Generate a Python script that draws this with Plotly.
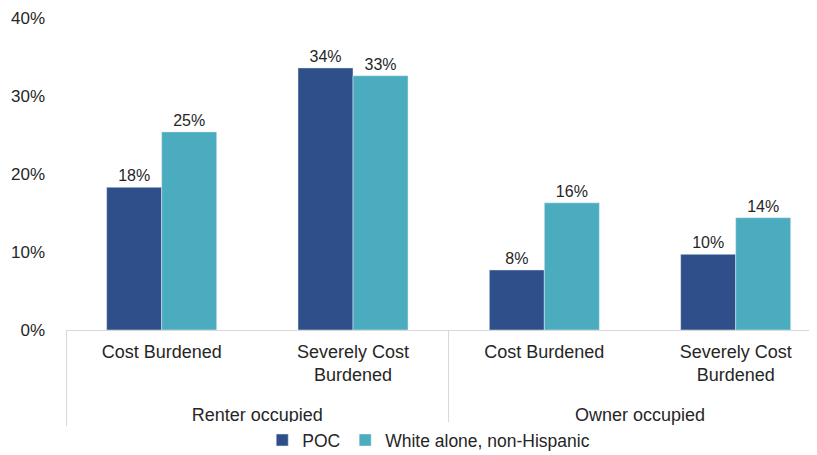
import plotly.graph_objects as go

groups = ["Renter occupied", "Renter occupied", "Owner occupied", "Owner occupied"]
categories = ["Cost Burdened", "Severely Cost<br>Burdened<br>&nbsp;", "Cost Burdened", "Severely Cost<br>Burdened<br>&nbsp;"]
poc = [18.3, 33.6, 7.7, 9.7]
white = [25.4, 32.6, 16.3, 14.4]
poc_labels = ["18%", "34%", "8%", "10%"]
white_labels = ["25%", "33%", "16%", "14%"]
y_ticks = [0, 10, 20, 30, 40]
y_ticklabels = ["0%", "10%", "20%", "30%", "40%"]

font = "Liberation Sans, Arial, sans-serif"
fig = go.Figure()
fig.add_trace(go.Bar(x=[groups, categories], y=poc, name="POC", marker_color="#2E4F8A",
                     text=poc_labels, textposition="outside", cliponaxis=False,
                     textfont=dict(size=16, color="#262626")))
fig.add_trace(go.Bar(x=[groups, categories], y=white, name="White alone, non-Hispanic",
                     marker_color="#4BACC0", text=white_labels, textposition="outside",
                     cliponaxis=False, textfont=dict(size=16, color="#262626")))
fig.update_layout(
    width=809, height=447, barmode="group", bargap=0.425, bargroupgap=0,
    plot_bgcolor="white", paper_bgcolor="white",
    margin=dict(l=58, r=0, t=10, b=125, autoexpand=False),
    font=dict(family=font, size=17, color="#262626"),
    legend=dict(orientation="h", x=0.483, xanchor="center", y=-0.353, yanchor="middle",
                font=dict(size=17.5), itemwidth=30, traceorder="normal"),
)
fig.update_xaxes(type="multicategory", range=[-0.5, 3.425], showline=True,
                 linecolor="#D9D9D9", linewidth=1,
                 showdividers=True, dividercolor="#D9D9D9", dividerwidth=1,
                 tickfont=dict(size=18, color="#262626"), showgrid=False, ticks="",
                 automargin=False, ticklabelstandoff=5)
fig.update_yaxes(range=[0, 40], tickvals=y_ticks, ticktext=y_ticklabels, showgrid=False,
                 zeroline=False, showline=False, tickfont=dict(size=17, color="#262626"),
                 ticks="", ticklabelstandoff=20, automargin=False)
fig.write_html("out.html")
